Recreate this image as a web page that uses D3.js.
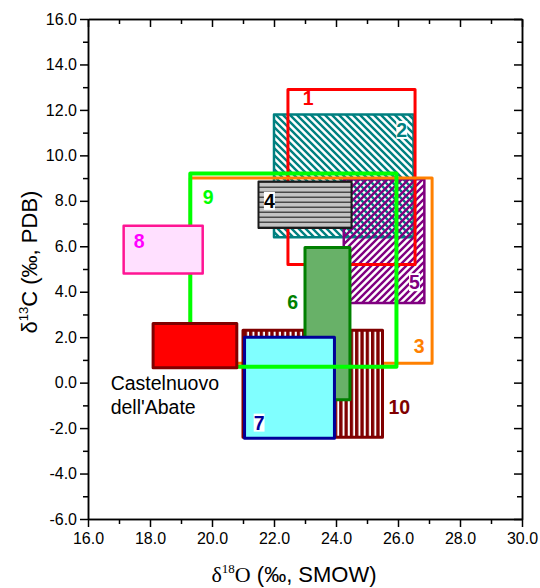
<!DOCTYPE html>
<html>
<head>
<meta charset="utf-8">
<script src="https://cdn.jsdelivr.net/npm/d3@7/dist/d3.min.js"></script>
<style>
  html, body { margin: 0; padding: 0; background: #fff; }
  svg { display: block; font-family: Arial, "Liberation Sans", sans-serif; }
</style>
</head>
<body>
<svg id="chart" width="540" height="588"></svg>
<script>
// Isotope fields: δ18O range (x) and δ13C range (y) for each group
const boxIds   = ["2", "5", "1", "4", "3", "10", "6", "7", "9", "8", "C"];
const o18Min   = [22.0, 24.25, 22.45, 21.5, 19.3, 21.0, 23.0, 21.05, 19.3, 17.15, 18.1];
const o18Max   = [26.5, 26.85, 26.55, 24.5, 27.1, 25.5, 24.45, 23.95, 25.95, 19.7, 20.8];
const c13Min   = [6.4, 3.5, 5.2, 6.8, 0.85, -2.4, -0.75, -2.45, 0.7, 4.8, 0.65];
const c13Max   = [11.8, 8.95, 12.9, 8.85, 9.0, 2.3, 5.95, 2.0, 9.2, 6.9, 2.6];

// Number labels and where they sit (data units)
const labelText = ["1", "2", "3", "4", "5", "6", "7", "8", "9", "10"];
const labelO18  = [23.1, 26.12, 26.68, 21.85, 26.53, 22.6, 21.52, 17.65, 19.88, 26.04];
const labelC13  = [12.52, 11.12, 1.63, 8.0, 4.42, 3.56, -1.76, 6.23, 8.18, -1.09];

const xMajor = [16, 18, 20, 22, 24, 26, 28, 30];
const yMajor = [-6, -4, -2, 0, 2, 4, 6, 8, 10, 12, 14, 16];

const svg = d3.select("#chart");
const plotL = 88, plotR = 522, plotT = 19, plotB = 519;

const x = d3.scaleLinear().domain([16, 30]).range([plotL, plotR]);
const y = d3.scaleLinear().domain([-6, 16]).range([plotB, plotT]);

// Fill patterns
const defs = svg.append("defs");
function stripePattern(id, size, color, width, path) {
  const p = defs.append("pattern").attr("id", id)
    .attr("patternUnits", "userSpaceOnUse").attr("width", size).attr("height", size);
  p.append("path").attr("d", path).attr("stroke", color).attr("stroke-width", width)
    .attr("fill", "none").attr("stroke-linecap", "square");
}
// "\\\" teal
stripePattern("hatchTeal", 7, "#008080", 2.4, "M0,0L7,7M-1,6L1,8M6,-1L8,1");
// "///" purple
stripePattern("hatchPurple", 7, "#800080", 2.4, "M0,7L7,0M-1,1L1,-1M6,8L8,6");
// horizontal lines on grey
{
  const p = defs.append("pattern").attr("id", "linesGrey")
    .attr("patternUnits", "userSpaceOnUse").attr("width", 10).attr("height", 5);
  p.append("rect").attr("width", 10).attr("height", 5).attr("fill", "#c4c4c4");
  p.append("rect").attr("y", 1.5).attr("width", 10).attr("height", 1.5).attr("fill", "#4a4a4a");
}
// vertical dark red lines
{
  const p = defs.append("pattern").attr("id", "linesMaroon")
    .attr("patternUnits", "userSpaceOnUse").attr("width", 5.3).attr("height", 10);
  p.append("rect").attr("width", 5.3).attr("height", 10).attr("fill", "#ffffff");
  p.append("rect").attr("x", 0).attr("width", 3.3).attr("height", 10).attr("fill", "#800000");
}

const boxStyle = {
  "1":  { fill: "none", stroke: "#ff0000", sw: 3 },
  "2":  { fill: "url(#hatchTeal)", stroke: "#008080", sw: 2.5 },
  "3":  { fill: "none", stroke: "#ff8000", sw: 3 },
  "4":  { fill: "url(#linesGrey)", stroke: "#1a1a1a", sw: 2 },
  "5":  { fill: "url(#hatchPurple)", stroke: "#800080", sw: 2.5 },
  "6":  { fill: "#68b168", stroke: "#008000", sw: 3 },
  "7":  { fill: "#80ffff", stroke: "#000099", sw: 3 },
  "8":  { fill: "#ffe0ff", stroke: "#ff1493", sw: 2.5 },
  "9":  { fill: "none", stroke: "#00ff00", sw: 4 },
  "10": { fill: "url(#linesMaroon)", stroke: "#800000", sw: 3 },
  "C":  { fill: "#ff0000", stroke: "#800000", sw: 3 }
};

const labelColor = {
  "1": "#ff0000", "2": "#008080", "3": "#ff8000", "4": "#000000", "5": "#800080",
  "6": "#008000", "7": "#000099", "8": "#ff00ff", "9": "#00ff00", "10": "#800000"
};
const labelBacked = { "2": true, "4": true, "5": true, "7": true };

// Boxes
const boxes = boxIds.map((id, i) => ({
  id, x0: o18Min[i], x1: o18Max[i], y0: c13Min[i], y1: c13Max[i]
}));
svg.append("g").selectAll("rect").data(boxes).join("rect")
  .attr("x", d => x(d.x0))
  .attr("y", d => y(d.y1))
  .attr("width", d => x(d.x1) - x(d.x0))
  .attr("height", d => y(d.y0) - y(d.y1))
  .attr("fill", d => boxStyle[d.id].fill)
  .attr("stroke", d => boxStyle[d.id].stroke)
  .attr("stroke-width", d => boxStyle[d.id].sw)
  .attr("stroke-linejoin", "round");

// Axes
const fmt = d => d.toFixed(1);
const xMinor = d3.range(17, 30, 2);
const yMinor = d3.range(-5, 16, 2);

function styleAxis(g) {
  g.select(".domain").attr("stroke", "#000").attr("stroke-width", 1.5);
  g.selectAll(".tick line").attr("stroke", "#000").attr("stroke-width", 1.5);
  g.selectAll(".tick text").attr("fill", "#000")
    .style("font-family", "Arial, 'Liberation Sans', sans-serif").style("font-size", "16px");
}

// bottom
svg.append("g").attr("transform", `translate(0,${plotB})`)
  .call(d3.axisBottom(x).tickValues(xMajor).tickFormat(fmt).tickSize(8).tickPadding(6).tickSizeOuter(0))
  .call(styleAxis);
svg.append("g").attr("transform", `translate(0,${plotB})`)
  .call(d3.axisBottom(x).tickValues(xMinor).tickFormat("").tickSize(5).tickSizeOuter(0))
  .call(styleAxis);
// left
svg.append("g").attr("transform", `translate(${plotL},0)`)
  .call(d3.axisLeft(y).tickValues(yMajor).tickFormat(fmt).tickSize(8).tickPadding(3).tickSizeOuter(0))
  .call(styleAxis);
svg.append("g").attr("transform", `translate(${plotL},0)`)
  .call(d3.axisLeft(y).tickValues(yMinor).tickFormat("").tickSize(5).tickSizeOuter(0))
  .call(styleAxis);
// top (ticks inward)
svg.append("g").attr("transform", `translate(0,${plotT})`)
  .call(d3.axisBottom(x).tickValues(xMajor).tickFormat("").tickSize(8).tickSizeOuter(0))
  .call(styleAxis);
svg.append("g").attr("transform", `translate(0,${plotT})`)
  .call(d3.axisBottom(x).tickValues(xMinor).tickFormat("").tickSize(5).tickSizeOuter(0))
  .call(styleAxis);
// right (ticks inward)
svg.append("g").attr("transform", `translate(${plotR},0)`)
  .call(d3.axisLeft(y).tickValues(yMajor).tickFormat("").tickSize(8).tickSizeOuter(0))
  .call(styleAxis);
svg.append("g").attr("transform", `translate(${plotR},0)`)
  .call(d3.axisLeft(y).tickValues(yMinor).tickFormat("").tickSize(5).tickSizeOuter(0))
  .call(styleAxis);

// Number labels
const labels = labelText.map((t, i) => ({ t, cx: x(labelO18[i]), cy: y(labelC13[i]) }));
const lg = svg.append("g");
labels.forEach(d => {
  const t = lg.append("text")
    .attr("x", d.cx).attr("y", d.cy)
    .attr("text-anchor", "middle").attr("dominant-baseline", "central")
    .attr("font-weight", "bold").attr("font-size", 19.5)
    .attr("fill", labelColor[d.t]).text(d.t);
  if (labelBacked[d.t]) {
    const b = t.node().getBBox();
    lg.insert("rect", () => t.node())
      .attr("x", b.x).attr("y", b.y + 2).attr("width", b.width).attr("height", b.height - 4)
      .attr("fill", "#fff");
  }
});

// Site name
svg.append("text").attr("x", x(16.73)).attr("y", 390)
  .attr("font-size", 19.5).attr("fill", "#000")
  .text("Castelnuovo");
svg.append("text").attr("x", x(16.73)).attr("y", 414)
  .attr("font-size", 19.5).attr("fill", "#000")
  .text("dell'Abate");

// Axis titles
const xt = svg.append("text").attr("x", 294).attr("y", 582)
  .attr("text-anchor", "middle").attr("font-size", 22).attr("fill", "#000");
xt.append("tspan").attr("font-family", "'Liberation Serif', 'Times New Roman', serif").text("δ");
xt.append("tspan").attr("font-family", "'Liberation Serif', 'Times New Roman', serif")
  .attr("font-size", 13).attr("dy", -9).text("18");
xt.append("tspan").attr("font-family", "'Liberation Serif', 'Times New Roman', serif")
  .attr("dy", 9).text("O");
xt.append("tspan").text(" (‰, SMOW)");

const yt = svg.append("text")
  .attr("transform", `translate(37,262) rotate(-90)`)
  .attr("text-anchor", "middle").attr("font-size", 22).attr("fill", "#000");
yt.append("tspan").text("δ");
yt.append("tspan").attr("font-size", 13).attr("dy", -9).text("13");
yt.append("tspan").attr("dy", 9).text("C (‰, PDB)");
</script>
</body>
</html>
